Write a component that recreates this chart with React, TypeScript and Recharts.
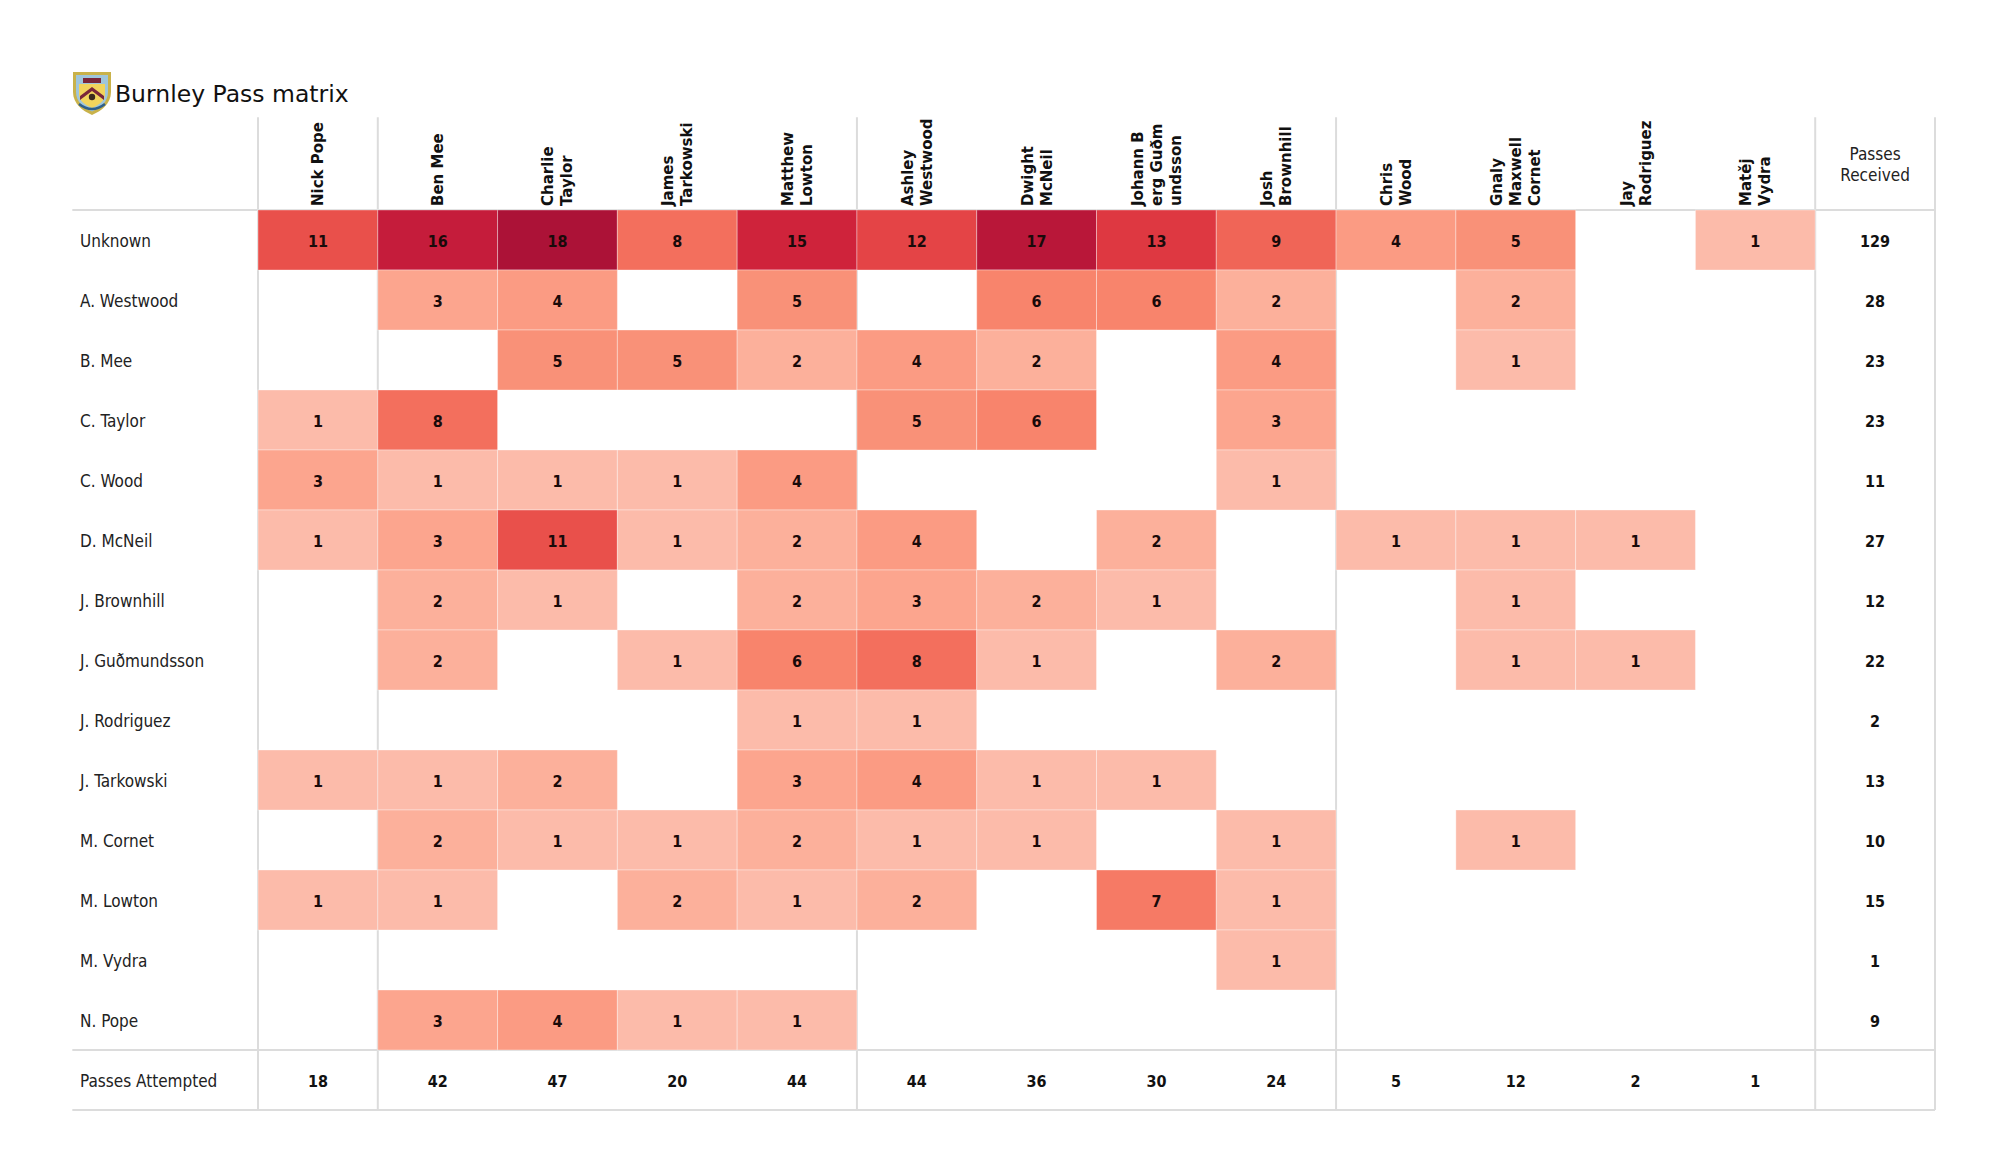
import React from 'react'
import { ScatterChart, Scatter, XAxis, YAxis, ReferenceLine } from 'recharts'

// passers along the top (columns), receivers down the side (rows)
const columns = [
  'Nick Pope',
  'Ben Mee',
  'Charlie\nTaylor',
  'James\nTarkowski',
  'Matthew\nLowton',
  'Ashley\nWestwood',
  'Dwight\nMcNeil',
  'Johann B\nerg Guðm\nundsson',
  'Josh\nBrownhill',
  'Chris\nWood',
  'Gnaly\nMaxwell\nCornet',
  'Jay\nRodriguez',
  'Matěj\nVydra',
]

const rows = [
  'Unknown',
  'A. Westwood',
  'B. Mee',
  'C. Taylor',
  'C. Wood',
  'D. McNeil',
  'J. Brownhill',
  'J. Guðmundsson',
  'J. Rodriguez',
  'J. Tarkowski',
  'M. Cornet',
  'M. Lowton',
  'M. Vydra',
  'N. Pope',
]

const matrix = [
  [11, 16, 18, 8, 15, 12, 17, 13, 9, 4, 5, 0, 1],
  [0, 3, 4, 0, 5, 0, 6, 6, 2, 0, 2, 0, 0],
  [0, 0, 5, 5, 2, 4, 2, 0, 4, 0, 1, 0, 0],
  [1, 8, 0, 0, 0, 5, 6, 0, 3, 0, 0, 0, 0],
  [3, 1, 1, 1, 4, 0, 0, 0, 1, 0, 0, 0, 0],
  [1, 3, 11, 1, 2, 4, 0, 2, 0, 1, 1, 1, 0],
  [0, 2, 1, 0, 2, 3, 2, 1, 0, 0, 1, 0, 0],
  [0, 2, 0, 1, 6, 8, 1, 0, 2, 0, 1, 1, 0],
  [0, 0, 0, 0, 1, 1, 0, 0, 0, 0, 0, 0, 0],
  [1, 1, 2, 0, 3, 4, 1, 1, 0, 0, 0, 0, 0],
  [0, 2, 1, 1, 2, 1, 1, 0, 1, 0, 1, 0, 0],
  [1, 1, 0, 2, 1, 2, 0, 7, 1, 0, 0, 0, 0],
  [0, 0, 0, 0, 0, 0, 0, 0, 1, 0, 0, 0, 0],
  [0, 3, 4, 1, 1, 0, 0, 0, 0, 0, 0, 0, 0],
]

const passesReceived = [129, 28, 23, 23, 11, 27, 12, 22, 2, 13, 10, 15, 1, 9]
const passesAttempted = [18, 42, 47, 20, 44, 44, 36, 30, 24, 5, 12, 2, 1]

// position-group dividers (column boundaries)
const dividers = [0, 1, 5, 9, 13, 14]

const W = 2000
const H = 1175
const M = { top: 10, right: 65, bottom: 65, left: 73 }
const X_AXIS_H = 200
const Y_AXIS_W = 185
const NCOL = 14
const NROW = 15
const CELL_W = (W - M.left - Y_AXIS_W - M.right) / NCOL
const CELL_H = (H - M.top - X_AXIS_H - M.bottom) / NROW

const COND = '"DejaVu Sans Condensed", "DejaVu Sans", sans-serif'
const SANS = '"DejaVu Sans", sans-serif'
const GRID = '#dcdcdc'

const stops: [number, number[]][] = [
  [1, [252, 187, 170]],
  [2, [252, 176, 155]],
  [3, [252, 165, 142]],
  [4, [251, 155, 131]],
  [5, [249, 145, 120]],
  [6, [248, 132, 108]],
  [8, [243, 111, 93]],
  [11, [233, 80, 75]],
  [13, [222, 56, 65]],
  [15, [207, 35, 59]],
  [16, [197, 28, 59]],
  [18, [172, 18, 55]],
]

const colorFor = (v: number) => {
  for (let i = 1; i < stops.length; i++) {
    const [v0, c0] = stops[i - 1]
    const [v1, c1] = stops[i]
    if (v <= v1) {
      const t = Math.max(0, (v - v0) / (v1 - v0))
      const c = c0.map((a, k) => Math.round(a + (c1[k] - a) * t))
      return `rgb(${c[0]},${c[1]},${c[2]})`
    }
  }
  const c = stops[stops.length - 1][1]
  return `rgb(${c[0]},${c[1]},${c[2]})`
}

const cells = matrix.flatMap((r, ri) =>
  r.map((v, ci) => ({ x: ci + 0.5, y: ri + 0.5, v })).filter(d => d.v > 0)
)

const totals = [
  ...passesReceived.map((v, ri) => ({ x: 13.5, y: ri + 0.5, v })),
  ...passesAttempted.map((v, ci) => ({ x: ci + 0.5, y: 14.5, v })),
]

const CellShape = (props: any) => {
  const { cx, cy, payload } = props
  return (
    <g>
      <rect
        x={cx - CELL_W / 2}
        y={cy - CELL_H / 2}
        width={CELL_W}
        height={CELL_H}
        fill={colorFor(payload.v)}
        stroke="#ffffff"
        strokeOpacity={0.35}
        strokeWidth={1}
      />
      <text x={cx} y={cy + 1} textAnchor="middle" dominantBaseline="central"
        fontFamily={COND} fontWeight="bold" fontSize={16} fill="#1a0a0a">
        {payload.v}
      </text>
    </g>
  )
}

const TotalShape = (props: any) => {
  const { cx, cy, payload } = props
  return (
    <text x={cx} y={cy + 1} textAnchor="middle" dominantBaseline="central"
      fontFamily={COND} fontWeight="bold" fontSize={16} fill="#111">
      {payload.v}
    </text>
  )
}

const HeaderTick = (props: any) => {
  const { x, payload } = props
  const idx = Math.floor(payload.value)
  if (idx >= columns.length) {
    return (
      <text x={x} y={160} textAnchor="middle" fontFamily={COND} fontSize={17} fill="#222">
        <tspan x={x} dy={0}>Passes</tspan>
        <tspan x={x} dy={21}>Received</tspan>
      </text>
    )
  }
  const lines = columns[idx].split('\n')
  const n = lines.length
  return (
    <g>
      {lines.map((l, i) => (
        <text key={i}
          transform={`translate(${x + (i - (n - 1) / 2) * 19 + 5.5}, 206) rotate(-90)`}
          textAnchor="start" fontFamily={SANS} fontWeight="bold" fontSize={15} fill="#111">
          {l}
        </text>
      ))}
    </g>
  )
}

const RowTick = (props: any) => {
  const { y, payload } = props
  const idx = Math.floor(payload.value)
  const label = idx < rows.length ? rows[idx] : 'Passes Attempted'
  return (
    <text x={80} y={y + 1} textAnchor="start" dominantBaseline="central"
      fontFamily={COND} fontSize={17} fill="#222">
      {label}
    </text>
  )
}

const Crest = () => (
  <svg width={42} height={46} viewBox="0 0 42 46" style={{ position: 'absolute', left: 71, top: 70 }}>
    <path d="M2 2 H40 V22 C40 34 30 41 21 45 C12 41 2 34 2 22 Z" fill="#c9b24a" />
    <path d="M5 5 H37 V22 C37 32 29 38 21 41.5 C13 38 5 32 5 22 Z" fill="#9fc6dc" />
    <path d="M8 14 H34 V24 C34 31 28 35 21 38 C14 35 8 31 8 24 Z" fill="#f2d45c" />
    <path d="M9 26 L21 17 L33 26 L33 30 L21 21 L9 30 Z" fill="#7a263a" />
    <rect x={12} y={8} width={18} height={5} fill="#7a263a" />
    <circle cx={21} cy={27} r={3.2} fill="#3b2a1e" />
    <path d="M8 34 Q21 44 34 34" stroke="#2f5f8a" strokeWidth={2.5} fill="none" />
  </svg>
)

const xTicks = Array.from({ length: NCOL }, (_, i) => i + 0.5)
const yTicks = Array.from({ length: NROW }, (_, i) => i + 0.5)

const lineTop = -1.545
const lineLeft = -1.55

export default function App() {
  return (
    <div style={{ position: 'absolute', left: 0, top: 0, width: W, height: H, background: '#fff', fontFamily: SANS }}>
      <Crest />
      <div style={{ position: 'absolute', left: 115, top: 79, fontSize: 23.5, color: '#111', fontFamily: SANS, lineHeight: '30px' }}>
        Burnley Pass matrix
      </div>
      <ScatterChart width={W} height={H} margin={M}>
        <XAxis type="number" dataKey="x" orientation="top" domain={[0, NCOL]} ticks={xTicks}
          height={X_AXIS_H} axisLine={false} tickLine={false} tick={<HeaderTick />} interval={0} />
        <YAxis type="number" dataKey="y" domain={[0, NROW]} reversed ticks={yTicks}
          width={Y_AXIS_W} axisLine={false} tickLine={false} tick={<RowTick />} interval={0} />
        <Scatter data={cells} shape={<CellShape />} isAnimationActive={false} />
        <Scatter data={totals} shape={<TotalShape />} isAnimationActive={false} />
        {dividers.map(d => (
          <ReferenceLine key={`v${d}`} ifOverflow="visible" stroke={GRID} strokeWidth={2}
            segment={[{ x: d, y: lineTop }, { x: d, y: NROW }]} />
        ))}
        {[0, 14, 15].map(r => (
          <ReferenceLine key={`h${r}`} ifOverflow="visible" stroke={GRID} strokeWidth={2}
            segment={[{ x: lineLeft, y: r }, { x: NCOL, y: r }]} />
        ))}
      </ScatterChart>
    </div>
  )
}
